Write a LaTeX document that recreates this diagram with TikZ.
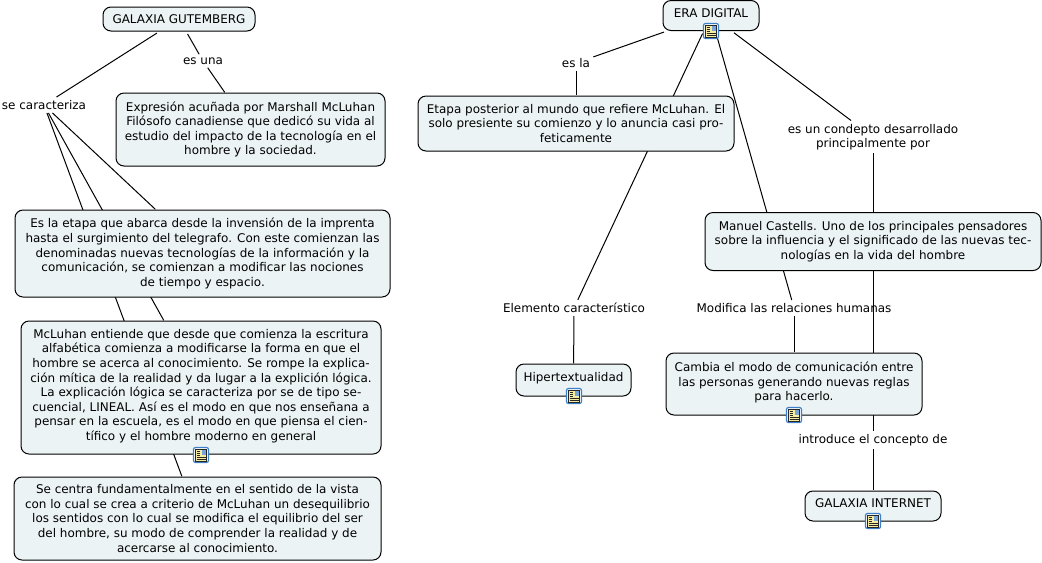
\documentclass[tikz,border=0pt]{standalone}
\usepackage{xcolor}
\usepackage{fontspec}
\setmainfont{DejaVu Sans}
\usetikzlibrary{backgrounds}
\definecolor{boxfill}{HTML}{ECF3F5}
\definecolor{iconblue}{HTML}{3C7FC8}
\definecolor{iconpaper}{HTML}{F7EDA0}

\begin{document}
\begin{tikzpicture}[
    x=0.75pt,y=-0.75pt,
    conc/.style={
      draw=black,
      line width=0.75pt,
      fill=boxfill,
      rounded corners=6pt,
      align=center,
      inner sep=0pt,
      outer sep=0.5pt,
      font=\fontsize{8.98}{10.95}\selectfont
    },
    linkw/.style={
      align=center,
      inner sep=1.5pt,
      outer sep=1pt,
      font=\fontsize{8.98}{10.95}\selectfont
    },
    conn/.style={
      line width=0.75pt
    },
    connout/.style={
      conn,
      shorten <=2pt
    },
    docicon/.pic={
      \draw[iconblue,fill=white,line width=0.9pt,rounded corners=1.5pt] (-7.5,-7.5) rectangle (7.5,7.5);
      \fill[iconpaper] (-5.5,-6) rectangle (5.5,6);
      \draw[black!85,line width=0.5pt] (-5.5,-6) rectangle (5.5,6);
      \fill[iconblue!70] (0.5,-5.5) rectangle (5,-0.5);
      \foreach \ly in {-4,-2,0}
        \draw[black!85,line width=0.5pt] (-4.5,\ly) -- (-1,\ly);
      \foreach \ly in {2,4}
        \draw[black!85,line width=0.5pt] (-4.5,\ly) -- (4.5,\ly);
    }
    ]
    \useasboundingbox (0,0) rectangle (1042,562);

    % left map
    \node[conc,minimum width=114pt,minimum height=18pt] (gutenberg) at (179,19)
      {GALAXIA GUTEMBERG};
    \node[linkw] (caract) at (44,105) {se caracteriza};
    \node[linkw] (esuna) at (203,61) {es una};
    \node[conc,minimum width=201.75pt,minimum height=54.75pt] (expresion) at (250.5,129.5)
      {Expresión acuñada por Marshall McLuhan\\
       Filósofo canadiense que dedicó su vida al\\
       estudio del impacto de la tecnología en el\\
       hombre y la sociedad.};
    \node[conc,minimum width=281.25pt,minimum height=65.25pt] (etapa) at (202.5,253.5)
      {Es la etapa que abarca desde la invensión de la imprenta\\
       hasta el surgimiento del telegrafo. Con este comienzan las\\
       denominadas nuevas tecnologías de la información y la\\
       comunicación, se comienzan a modificar las nociones\\
       de tiempo y espacio.};
    \node[conc,minimum width=270pt,minimum height=99.75pt] (mcluhan) at (201,387.5)
      {McLuhan entiende que desde que comienza la escritura\\
       alfabética comienza a modificarse la forma en que el\\
       hombre se acerca al conocimiento. Se rompe la explica-\\
       ción mítica de la realidad y da lugar a la explición lógica.\\
       La explicación lógica se caracteriza por se de tipo se-\\
       cuencial, LINEAL. Así es el modo en que nos enseñana a\\
       pensar en la escuela, es el modo en que piensa el cien-\\
       tífico y el hombre moderno en general\\[-7pt]};
    \node[conc,minimum width=275.25pt,minimum height=62.25pt] (vista) at (197.5,518.5)
      {Se centra fundamentalmente en el sentido de la vista\\
       con lo cual se crea a criterio de McLuhan un desequilibrio\\
       los sentidos con lo cual se modifica el equilibrio del ser\\
       del hombre, su modo de comprender la realidad y de\\
       acercarse al conocimiento.};

    % right map
    \node[conc,minimum width=72pt,minimum height=22.5pt] (era) at (711,15.5)
      {ERA DIGITAL\\[-7pt]};
    \node[linkw] (esla) at (576,63) {es la};
    \node[linkw] (desarrollo) at (873,137)
      {es un condepto desarrollado\\principalmente por};
    \node[conc,minimum width=237pt,minimum height=41.25pt] (posterior) at (576,123.5)
      {Etapa posterior al mundo que refiere McLuhan. El\\
       solo presiente su comienzo y lo anuncia casi pro-\\
       feticamente};
    \node[conc,minimum width=252pt,minimum height=43.5pt] (castells) at (873,241.5)
      {Manuel Castells. Uno de los principales pensadores\\
       sobre la influencia y el significado de las nuevas tec-\\
       nologías en la vida del hombre};
    \node[linkw] (elemento) at (574,308) {Elemento característico};
    \node[linkw] (modifica) at (794,308) {Modifica las relaciones humanas};
    \node[conc,minimum width=86.25pt,minimum height=24pt] (hiper) at (573.5,380)
      {Hipertextualidad\\[-7pt]};
    \node[conc,minimum width=192pt,minimum height=46.5pt] (cambia) at (794,384)
      {Cambia el modo de comunicación entre\\
       las personas generando nuevas reglas\\
       para hacerlo.\\[-7pt]};
    \node[linkw] (introduce) at (873,440) {introduce el concepto de};
    \node[conc,minimum width=102pt,minimum height=22.5pt] (internet) at (873,506)
      {GALAXIA INTERNET\\[-7pt]};

    \begin{scope}[on background layer]
    \draw[connout] (gutenberg) -- (caract);
    \draw[connout] (gutenberg) -- (esuna);
    \draw[conn] (esuna) -- (expresion);
    \draw[conn] (caract) -- (etapa);
    \draw[conn] (caract) -- (mcluhan);
    \draw[conn] (caract) -- (vista);
    \draw[connout] (era) -- (esla);
    \draw[conn] (esla) -- (posterior);
    \draw[connout] (era) -- (elemento);
    \draw[conn] (elemento) -- (hiper);
    \draw[connout] (era) -- (modifica);
    \draw[conn] (modifica) -- (cambia);
    \draw[connout] (era) -- (desarrollo);
    \draw[conn] (desarrollo) -- (castells);
    \draw[conn] (castells) -- (introduce);
    \draw[conn] (introduce) -- (internet);
    \end{scope}

    \pic at (201,455) {docicon};
    \pic at (711,31) {docicon};
    \pic at (574,396) {docicon};
    \pic at (794,415) {docicon};
    \pic at (873,521) {docicon};
\end{tikzpicture}
\end{document}
